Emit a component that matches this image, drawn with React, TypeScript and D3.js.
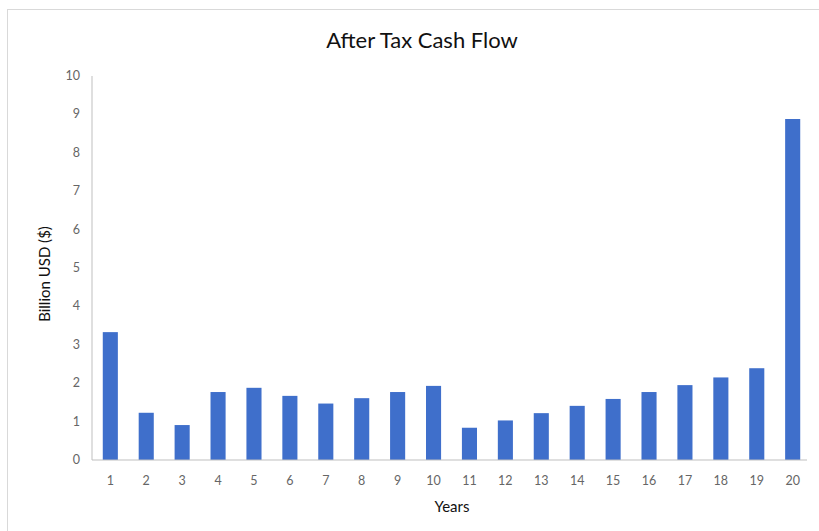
import React from "react";
import * as d3 from "d3";

const years = ["1","2","3","4","5","6","7","8","9","10","11","12","13","14","15","16","17","18","19","20"];
const cashFlow = [3.33, 1.23, 0.91, 1.77, 1.88, 1.67, 1.47, 1.61, 1.77, 1.93, 0.84, 1.03, 1.22, 1.41, 1.59, 1.77, 1.95, 2.15, 2.39, 8.88];
const yTicks = [0, 1, 2, 3, 4, 5, 6, 7, 8, 9, 10];

const W = 819;
const H = 531;
const margin = { left: 92, right: 8, top: 76, bottom: 71 };
const FONT = "Lato, 'Open Sans', sans-serif";

export default function App() {
  const x = d3
    .scaleBand<string>()
    .domain(years)
    .range([margin.left, W - margin.right])
    .paddingInner(0.58)
    .paddingOuter(0.3);
  const y = d3.scaleLinear().domain([0, 10]).range([H - margin.bottom, margin.top]);
  const base = y(0);

  return (
    <svg
      width={W}
      height={H}
      style={{ position: "fixed", left: 0, top: 0, background: "#fff" }}
      fontFamily={FONT}
    >
      <rect x={7.5} y={9.5} width={W} height={H} fill="#fff" stroke="#d9d9d9" />
      <text x={422} y={48} textAnchor="middle" fontSize={22} fill="#111">
        After Tax Cash Flow
      </text>
      {/* value axis */}
      <line x1={margin.left} x2={margin.left} y1={y(10)} y2={base} stroke="#bfbfbf" />
      {yTicks.map((t) => (
        <text key={t} x={80} y={y(t) + 4} textAnchor="end" fontSize={12.5} fill="#666">
          {t}
        </text>
      ))}
      <text
        transform={`translate(50,${(y(0) + y(10)) / 2 + 6}) rotate(-90)`}
        textAnchor="middle"
        fontSize={15}
        fill="#111"
      >
        Billion USD ($)
      </text>
      {/* bars */}
      {years.map((yr, i) => (
        <rect
          key={yr}
          x={x(yr)}
          y={y(cashFlow[i])}
          width={x.bandwidth()}
          height={base - y(cashFlow[i])}
          fill="#3f6fcb"
        />
      ))}
      <line x1={margin.left} x2={W - 12} y1={base} y2={base} stroke="#bfbfbf" />
      {years.map((yr) => (
        <text
          key={yr}
          x={(x(yr) as number) + x.bandwidth() / 2}
          y={485}
          textAnchor="middle"
          fontSize={12.5}
          fill="#666"
        >
          {yr}
        </text>
      ))}
      <text x={452} y={512} textAnchor="middle" fontSize={15} fill="#111">
        Years
      </text>
    </svg>
  );
}
